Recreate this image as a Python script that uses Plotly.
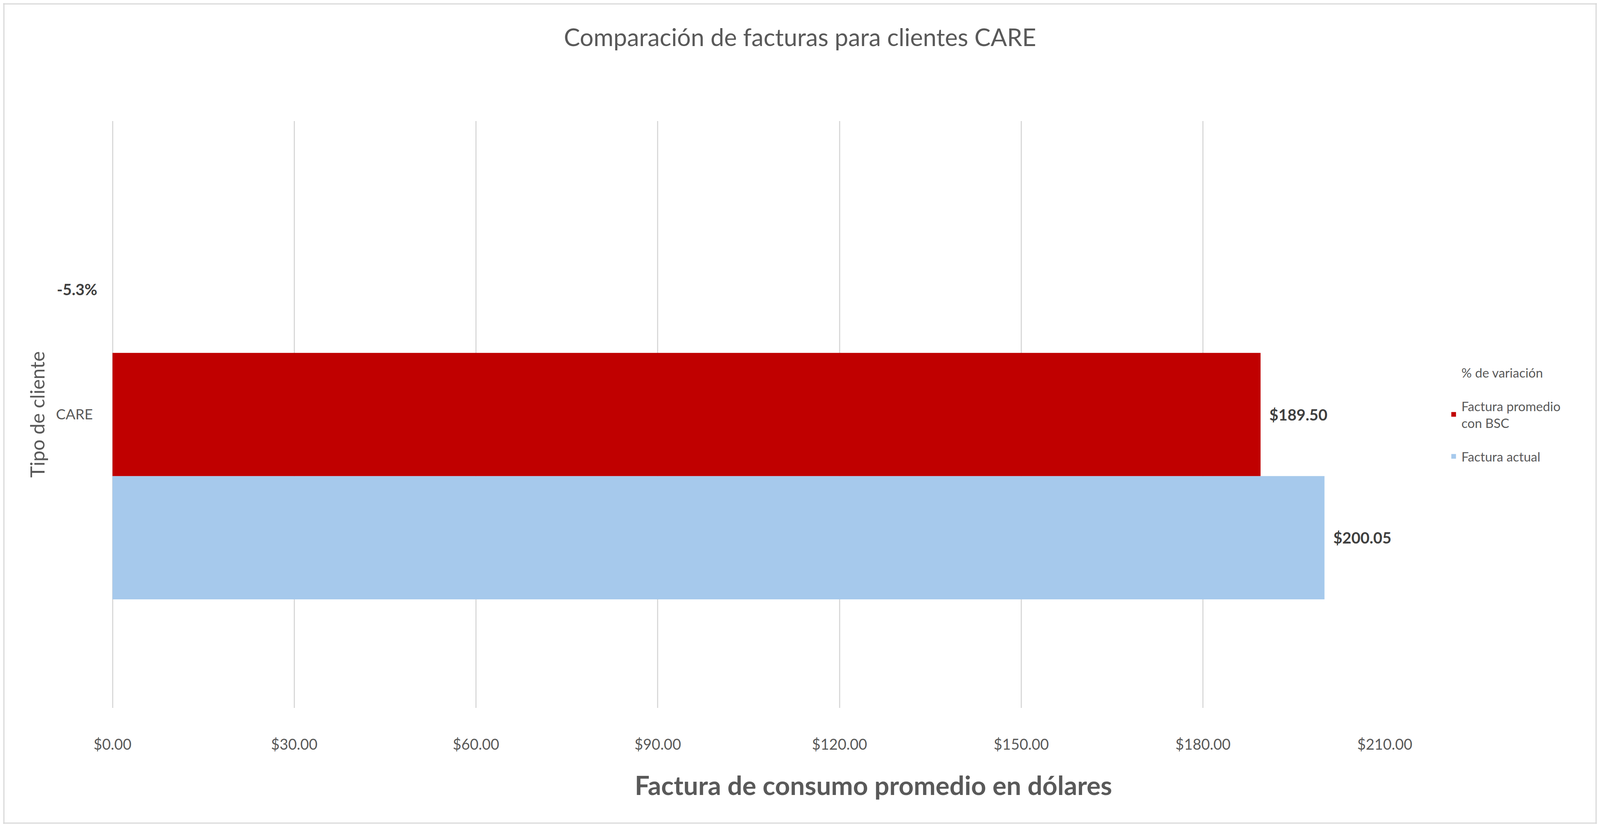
import plotly.graph_objects as go

# ===========================================================
# DATA
# ===========================================================
categorias = ["CARE"]
factura_actual = [200.05]
factura_bsc = [189.50]
variacion_pct = [-5.3]

nombres = ["Factura actual", "Factura promedio<br>con BSC", "% de variación"]
x_ticks = [0, 30, 60, 90, 120, 150, 180, 210]

TXT = "#595959"
LBL = "#404040"
GRID = "#D9D9D9"
FONT = "Lato"
BARGAP = 0.37
N_SERIES = 3

# ===========================================================
# FIGURE
# ===========================================================
fig = go.Figure()

# bottom bar first (plotly places horizontal group members bottom -> top)
fig.add_trace(go.Bar(
    y=categorias, x=factura_actual, orientation="h",
    name=nombres[0], legendgroup="a", legendrank=3,
    marker=dict(color="#A6C9EC", line=dict(width=0)),
    text=[f"  ${v:.2f}" for v in factura_actual],
    textposition="outside", cliponaxis=False,
    textfont=dict(family=FONT, size=40, color=LBL, weight="bold"),
))

fig.add_trace(go.Bar(
    y=categorias, x=factura_bsc, orientation="h",
    name=nombres[1], legendgroup="b", legendrank=2,
    marker=dict(color="#C00000", line=dict(width=0)),
    text=[f"  ${v:.2f}" for v in factura_bsc],
    textposition="outside", cliponaxis=False,
    textfont=dict(family=FONT, size=40, color=LBL, weight="bold"),
))

# variation series: invisible bar (keeps the top slot + legend entry)
fig.add_trace(go.Bar(
    y=categorias, x=[v / 100 for v in variacion_pct], orientation="h",
    name=nombres[2], legendgroup="c", legendrank=1,
    marker=dict(color="rgba(0,0,0,0)", line=dict(width=0)),
    hoverinfo="skip",
))

# its label, drawn on an overlay axis at the centre of the top slot
slot = (1 - BARGAP) / N_SERIES
fig.add_trace(go.Scatter(
    x=[0] * len(variacion_pct), y=[slot * (N_SERIES - 1) / 2] * len(variacion_pct),
    yaxis="y2", mode="text",
    text=[f"{v:.1f}%    " for v in variacion_pct],
    textposition="middle left", cliponaxis=False, showlegend=False,
    textfont=dict(family=FONT, size=40, color=LBL, weight="bold"),
    hoverinfo="skip",
))

ml, mr, mt, mb = 280, 543, 302, 297


def edge(**kw):
    base = dict(type="line", layer="below", line=dict(color=GRID, width=3))
    base.update(kw)
    return base


fig.update_layout(
    autosize=True,
    margin=dict(l=ml, r=mr, t=mt, b=mb, pad=0),
    paper_bgcolor="white", plot_bgcolor="white",
    barmode="group", bargap=BARGAP, bargroupgap=0,
    font=dict(family=FONT, color=TXT, size=36),
    title=dict(
        text="Comparación de facturas para clientes CARE",
        x=0.5, xref="container", xanchor="center",
        y=0.958, yref="container", yanchor="middle",
        font=dict(family=FONT, size=62, color=TXT),
    ),
    showlegend=True,
    legend=dict(
        traceorder="grouped", tracegroupgap=40,
        x=1.048, xanchor="left", y=0.5, yanchor="middle",
        font=dict(family=FONT, size=33, color=TXT),
        bgcolor="rgba(0,0,0,0)",
    ),
    xaxis=dict(
        range=[0, 210], tickvals=x_ticks, tickformat="$.2f",
        showgrid=True, gridcolor=GRID, gridwidth=3,
        zeroline=True, zerolinecolor=GRID, zerolinewidth=3,
        showline=False,
        ticks="outside", ticklen=60, tickcolor="rgba(0,0,0,0)",
        tickfont=dict(family=FONT, size=38, color=TXT),
    ),
    yaxis=dict(
        range=[-0.5, 0.5],
        showgrid=False, zeroline=False, showline=False,
        ticks="outside", ticklen=42, tickcolor="rgba(0,0,0,0)",
        tickfont=dict(family=FONT, size=37, color=TXT),
        title=dict(text="Tipo de cliente",
                   font=dict(family=FONT, size=50, color=TXT), standoff=12),
    ),
    yaxis2=dict(overlaying="y", range=[-0.5, 0.5], visible=False),
    annotations=[dict(
        text="<b>Factura de consumo promedio en dólares</b>",
        xref="paper", yref="paper", x=0.598, y=-0.131,
        xanchor="center", yanchor="middle", showarrow=False,
        font=dict(family=FONT, size=67, color=TXT),
    )],
    # thin chart-area border
    shapes=[
        edge(xref="paper", xsizemode="pixel", xanchor=0, x0=-(ml - 2), x1=-(ml - 2),
             yref="paper", y0=-1, y1=2),
        edge(xref="paper", xsizemode="pixel", xanchor=1, x0=mr - 2, x1=mr - 2,
             yref="paper", y0=-1, y1=2),
        edge(yref="paper", ysizemode="pixel", yanchor=1, y0=mt - 2, y1=mt - 2,
             xref="paper", x0=-1, x1=2),
        edge(yref="paper", ysizemode="pixel", yanchor=0, y0=-(mb - 2), y1=-(mb - 2),
             xref="paper", x0=-1, x1=2),
    ],
)

fig.write_html("out.html")
